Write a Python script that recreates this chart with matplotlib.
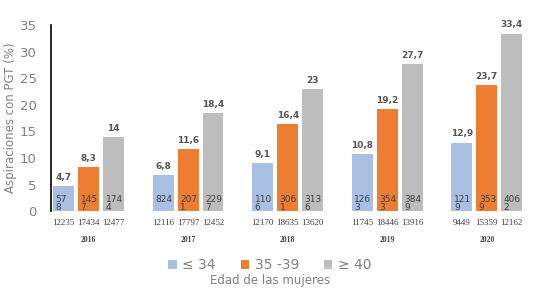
import matplotlib
matplotlib.use("Agg")
import matplotlib.pyplot as plt
import numpy as np

years = ["2016", "2017", "2018", "2019", "2020"]
groups = ["≤ 34", "35 -39", "≥ 40"]
pct = {
    "≤ 34": [4.7, 6.8, 9.1, 10.8, 12.9],
    "35 -39": [8.3, 11.6, 16.4, 19.2, 23.7],
    "≥ 40": [14, 18.4, 23, 27.7, 33.4],
}
# counts as printed inside the bars (wrapped in the original)
counts = {
    "≤ 34": ["57\n8", "824", "110\n6", "126\n3", "121\n9"],
    "35 -39": ["145\n7", "207\n1", "306\n1", "354\n3", "353\n9"],
    "≥ 40": ["174\n4", "229\n7", "313\n6", "384\n9", "406\n2"],
}
totals = {
    "≤ 34": ["12235", "12116", "12170", "11745", "9449"],
    "35 -39": ["17434", "17797", "18635", "18446", "15359"],
    "≥ 40": ["12477", "12452", "13620", "13916", "12162"],
}
colors = {"≤ 34": "#A9BFE3", "35 -39": "#ED7D31", "≥ 40": "#BDBDBD"}

fig = plt.figure(figsize=(5.4, 2.92), dpi=100)
ax = fig.add_axes([0.094, 0.277, 0.896, 0.637])

x = np.arange(len(years))
w = 0.21
offs = [-0.25, 0.0, 0.25]
for g, o in zip(groups, offs):
    ax.bar(x + o, pct[g], width=w, color=colors[g], label=g, zorder=2)
    for xi, v, c, t in zip(x + o, pct[g], counts[g], totals[g]):
        lab = f"{v:g}".replace(".", ",")
        ax.annotate(lab, (xi, v), xytext=(0, 3), textcoords="offset points",
                    ha="center", va="bottom", fontsize=6.5, fontweight="bold",
                    color="#555555")
        ax.text(xi - 0.08, 3.0, c, ha="left", va="top", fontsize=6.5,
                color="#404040", linespacing=0.85, zorder=3)
        ax.text(xi, -0.065, t, transform=ax.get_xaxis_transform(),
                ha="center", va="center", fontsize=6.5, color="#404040",
                family="Liberation Serif")

for xi, y in zip(x, years):
    ax.text(xi, -0.156, y, transform=ax.get_xaxis_transform(),
            ha="center", va="center", fontsize=5.5, fontweight="bold",
            color="#404040", family="Liberation Serif")

ax.set_xlim(-0.38, 4.48)
ax.set_ylim(0, 35)
ax.set_yticks(range(0, 36, 5))
ax.set_xticks([])
ax.tick_params(axis="y", length=0, labelsize=9.5, colors="#808080", pad=10)
for s in ["top", "right", "bottom"]:
    ax.spines[s].set_visible(False)
ax.spines["left"].set_color("black")
ax.spines["left"].set_linewidth(1.2)
ax.set_ylabel("Aspiraciones con PGT (%)", fontsize=8.5, color="#808080", labelpad=2)

fig.legend(loc="center", bbox_to_anchor=(0.5, 0.092), ncol=3, frameon=False,
           fontsize=10, labelcolor="#808080", handlelength=0.6, handleheight=0.6,
           columnspacing=1.8, handletextpad=0.4)
fig.text(0.5, 0.038, "Edad de las mujeres", ha="center", va="center",
         fontsize=8.5, color="#808080")

fig.savefig("out.png", dpi=100)
